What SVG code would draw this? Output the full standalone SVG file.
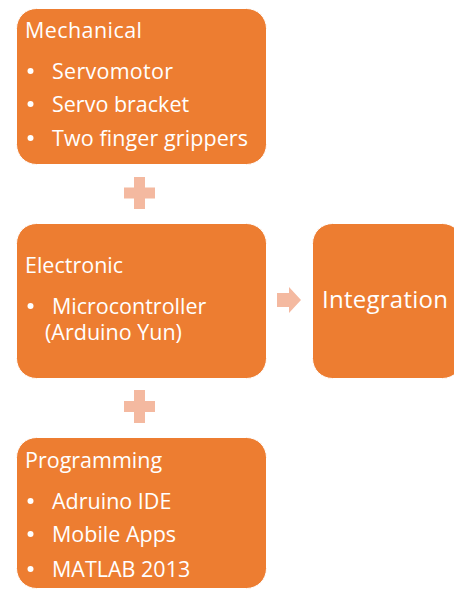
<svg xmlns="http://www.w3.org/2000/svg" width="454" height="590" viewBox="0 0 454 590">
<style>
.box{fill:#ED7D31;stroke:#ffffff;stroke-width:1}
.t{font-family:"Open Sans","Liberation Sans",sans-serif;fill:#ffffff;font-size:21.5px}
.conn{fill:#F4B9A0}
</style>
<rect x="0" y="0" width="454" height="590" fill="#ffffff"/>
<g id="mechanical">
<rect class="box" x="16.5" y="8.5" width="250" height="156" rx="20"/>
<text class="t" x="25" y="38" textLength="117">Mechanical</text>
<circle cx="30.5" cy="71" r="3" fill="#fff"/>
<text class="t" x="52" y="79" textLength="121">Servomotor</text>
<circle cx="30.5" cy="104" r="3" fill="#fff"/>
<text class="t" x="52" y="112">Servo bracket</text>
<circle cx="30.5" cy="138" r="3" fill="#fff"/>
<text class="t" x="52" y="146" textLength="196">Two finger grippers</text>
</g>
<g id="electronic">
<rect class="box" x="16.5" y="223.5" width="250" height="155" rx="20"/>
<text class="t" x="25" y="273">Electronic</text>
<circle cx="30.5" cy="306" r="3" fill="#fff"/>
<text class="t" x="52" y="314">Microcontroller</text>
<text class="t" x="45" y="340">(Arduino Yun)</text>
</g>
<g id="integration">
<rect class="box" x="312.5" y="223.5" width="150" height="155" rx="20"/>
<text class="t" x="322" y="308" style="font-size:24px" textLength="126">Integration</text>
</g>
<g id="programming">
<rect class="box" x="16.5" y="437.5" width="250" height="151" rx="20"/>
<text class="t" x="25" y="468">Programming</text>
<circle cx="30.5" cy="501" r="3" fill="#fff"/>
<text class="t" x="52" y="509">Adruino IDE</text>
<circle cx="30.5" cy="534" r="3" fill="#fff"/>
<text class="t" x="52" y="542">Mobile Apps</text>
<circle cx="30.5" cy="569" r="3" fill="#fff"/>
<text class="t" x="52" y="577">MATLAB 2013</text>
</g>
<g id="connectors">
<path class="conn" d="M124,187.5H134V177H145V187.5H155V198.5H145V209H134V198.5H124Z"/>
<path class="conn" d="M124,401H134V390H145V401H155V412H145V423H134V412H124Z"/>
<path class="conn" d="M277,293H289V287L301,300L289,313V307H277Z"/>
</g>
</svg>
